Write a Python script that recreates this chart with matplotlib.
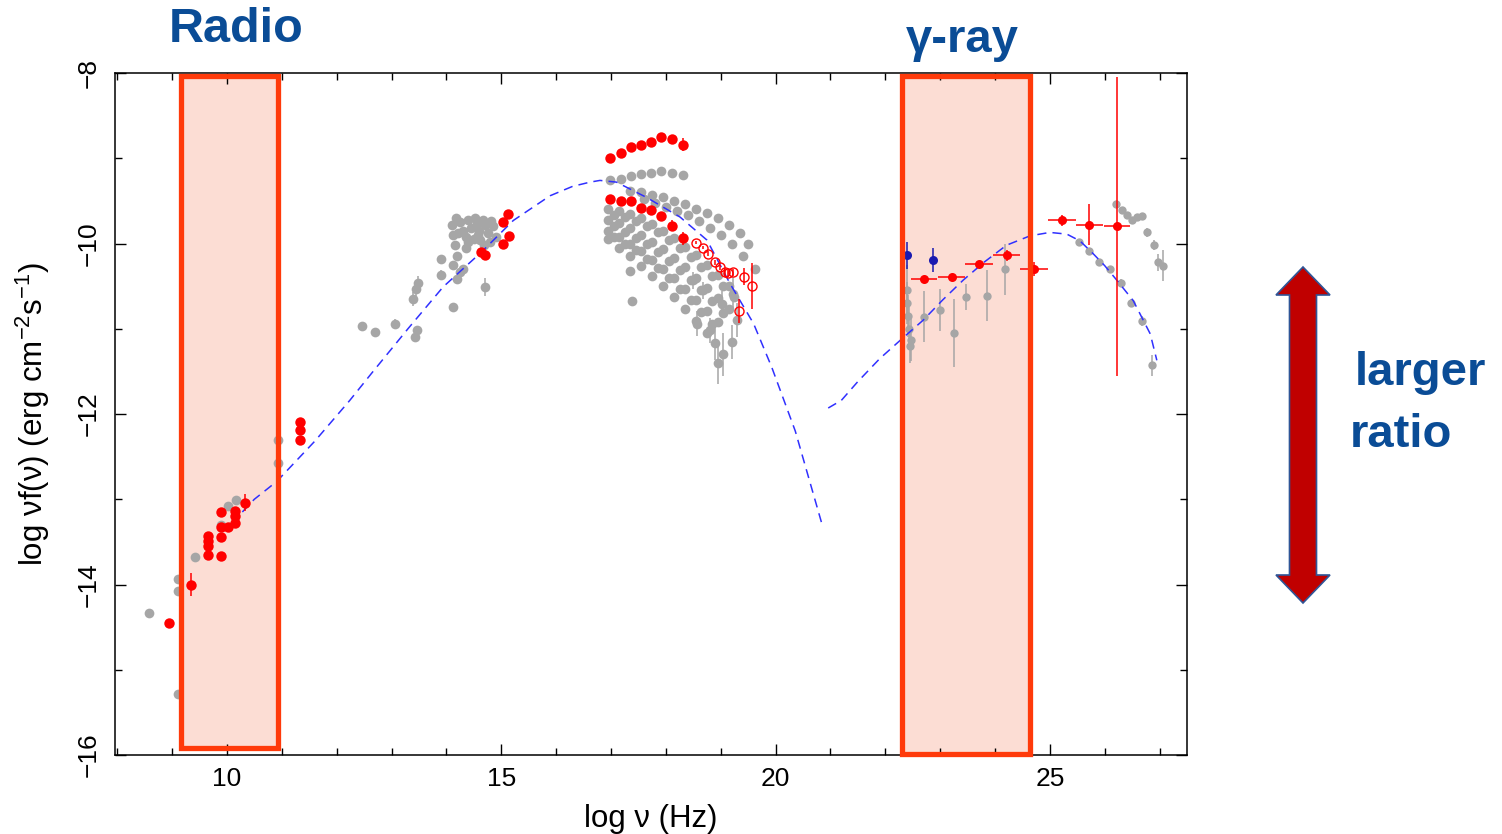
import matplotlib
matplotlib.use("Agg")
import matplotlib.pyplot as plt
from matplotlib.patches import Rectangle, Polygon
from matplotlib.ticker import MultipleLocator

plt.rcParams['font.family'] = ['Liberation Sans', 'DejaVu Sans']
plt.rcParams['mathtext.fontset'] = 'custom'
plt.rcParams['mathtext.rm'] = 'Liberation Sans'
plt.rcParams['mathtext.it'] = 'Liberation Sans:italic'

# ---------------- data: log nu (Hz), log nuF(nu) (erg cm^-2 s^-1) ----------------
# radio / mm simultaneous points (red)
radio_red_x = [8.95, 9.34, 9.66, 9.66, 9.66, 9.66, 9.89, 9.89, 9.89, 9.89, 10.02, 10.15, 10.15, 10.15, 10.33, 11.34, 11.34, 11.34]
radio_red_y = [-14.45, -14.00, -13.65, -13.55, -13.49, -13.43, -13.67, -13.44, -13.32, -13.15, -13.32, -13.28, -13.20, -13.14, -13.04, -12.09, -12.19, -12.30]
radio_red_err = [0.05, 0.14, 0.06, 0.0, 0.0, 0.0, 0.0, 0.0, 0.0, 0.0, 0.0, 0.0, 0.0, 0.0, 0.10, 0.0, 0.0, 0.0]

# archival radio points (grey)
radio_gray_x = [8.58, 9.11, 9.11, 9.11, 9.42, 9.89, 10.02, 10.16, 10.94, 10.94]
radio_gray_y = [-14.33, -13.94, -14.08, -15.29, -13.68, -13.30, -13.08, -13.01, -12.30, -12.58]

# archival IR / optical points (grey)
opt_gray_x = [12.46, 12.70, 13.06, 13.43, 13.46, 13.40, 13.45, 13.48, 13.91, 13.91, 14.12, 14.25, 14.71,
              14.10, 14.12, 14.15, 14.25, 14.30, 14.40, 14.45, 14.55, 14.60, 14.70, 14.75, 14.85, 14.90,
              14.80, 14.50, 14.35, 14.20, 14.12, 14.30, 14.20, 14.62, 14.68,
              14.18, 14.35, 14.52, 14.66, 14.82, 14.40, 14.58, 14.22]
opt_gray_y = [-10.97, -11.04, -10.94, -11.10, -11.02, -10.65, -10.53, -10.46, -10.18, -10.37, -10.75, -10.34, -10.51,
              -9.78, -9.90, -10.02, -9.75, -9.85, -9.73, -9.82, -9.76, -9.85, -9.78, -9.88, -9.80, -9.92,
              -9.98, -9.95, -10.05, -10.15, -10.25, -10.30, -10.42, -9.96, -10.02,
              -9.70, -9.92, -9.70, -9.72, -9.74, -9.98, -9.90, -9.88]
opt_gray_err = [0.05, 0.03, 0.06, 0.05, 0.04, 0.08, 0.08, 0.08, 0.05, 0.06, 0.05, 0.04, 0.10,
                0, 0, 0, 0, 0, 0, 0, 0, 0, 0, 0, 0, 0, 0, 0, 0, 0, 0, 0, 0, 0, 0,
                0, 0, 0, 0, 0, 0, 0, 0]

# UV points (red)
uv_red_x = [14.64, 14.70, 15.04, 15.13, 15.04, 15.15]
uv_red_y = [-10.10, -10.13, -10.00, -9.65, -9.75, -9.91]

# X-ray spectra, high and low state (red, filled)
xray_hi_x = [16.98, 17.18, 17.36, 17.54, 17.73, 17.92, 18.11, 18.31]
xray_hi_y = [-9.00, -8.94, -8.87, -8.85, -8.81, -8.75, -8.78, -8.84]
xray_hi_err = [0, 0, 0, 0, 0, 0, 0, 0.08]
xray_lo_x = [16.98, 17.18, 17.36, 17.54, 17.73, 17.92, 18.11, 18.31]
xray_lo_y = [-9.48, -9.50, -9.50, -9.58, -9.61, -9.68, -9.79, -9.94]
xray_lo_err = [0, 0, 0, 0, 0, 0.05, 0.06, 0.08]

# hard X-ray spectrum (red, open)
hx_x = [18.55, 18.67, 18.77, 18.90, 18.99, 19.07, 19.14, 19.22, 19.43, 19.58, 19.34]
hx_y = [-9.99, -10.05, -10.12, -10.22, -10.28, -10.34, -10.35, -10.34, -10.39, -10.50, -10.79]
hx_err = [0.02, 0.02, 0.03, 0.03, 0.03, 0.04, 0.04, 0.04, 0.10, 0.27, 0.14]

# archival X-ray spectra (grey)
xg_row_x = [16.98, 17.18, 17.36, 17.54, 17.73, 17.92, 18.11, 18.31]
xg_row_y = [-9.26, -9.24, -9.21, -9.19, -9.17, -9.15, -9.17, -9.20]
xg_s1_x = [17.35, 17.55, 17.75, 17.95, 18.15, 18.35, 18.55, 18.75, 18.95, 19.15, 19.35, 19.50, 19.62]
xg_s1_y = [-9.38, -9.40, -9.43, -9.46, -9.50, -9.54, -9.59, -9.64, -9.70, -9.78, -9.88, -10.00, -10.30]
xg_s2_x = [17.60, 17.80, 18.00, 18.20, 18.40, 18.60, 18.80, 19.00, 19.20, 19.40]
xg_s2_y = [-9.48, -9.52, -9.57, -9.62, -9.67, -9.74, -9.82, -9.90, -10.00, -10.15]
xg_s3_x = [16.95, 17.15, 17.35, 17.55, 17.75, 17.95, 18.15, 18.35, 18.55, 18.75, 18.95, 19.15]
xg_s3_y = [-9.60, -9.62, -9.65, -9.70, -9.77, -9.85, -9.94, -10.04, -10.14, -10.25, -10.37, -10.50]
xg_s4_x = [17.05, 17.25, 17.45, 17.65, 17.85, 18.05, 18.25, 18.45, 18.65, 18.85, 19.05, 19.25]
xg_s4_y = [-9.66, -9.69, -9.74, -9.80, -9.87, -9.96, -10.05, -10.16, -10.27, -10.38, -10.50, -10.63]
xg_s5_x = [16.95, 17.15, 17.35, 17.55, 17.75, 17.95, 18.15, 18.35, 18.55, 18.75, 18.95, 19.15]
xg_s5_y = [-9.72, -9.76, -9.82, -9.90, -9.98, -10.07, -10.17, -10.28, -10.40, -10.52, -10.64, -10.77]
xg_s6_x = [17.05, 17.25, 17.45, 17.65, 17.85, 18.05, 18.25, 18.45, 18.65, 18.85, 19.05]
xg_s6_y = [-9.80, -9.86, -9.93, -10.01, -10.10, -10.20, -10.31, -10.43, -10.55, -10.68, -10.81]
xg_s7_x = [16.95, 17.15, 17.35, 17.55, 17.75, 17.95, 18.15, 18.35, 18.55, 18.75, 18.95]
xg_s7_y = [-9.85, -9.92, -10.00, -10.09, -10.19, -10.30, -10.41, -10.53, -10.66, -10.79, -10.92]
xg_s8_x = [17.05, 17.25, 17.45, 17.65, 17.85, 18.05, 18.25, 18.45, 18.65, 18.85]
xg_s8_y = [-9.92, -10.00, -10.08, -10.18, -10.29, -10.40, -10.53, -10.66, -10.80, -10.94]
xg_s9_x = [16.95, 17.15, 17.35, 17.55, 17.75, 17.95, 18.15, 18.35, 18.55, 18.75]
xg_s9_y = [-9.95, -10.05, -10.15, -10.26, -10.38, -10.50, -10.63, -10.77, -10.91, -11.05]
xg_tail_x = [17.38, 17.35, 18.50, 18.57, 18.81, 18.90, 19.20, 19.02, 19.22, 18.68, 19.05, 18.95, 19.30]
xg_tail_y = [-10.67, -10.32, -10.43, -10.94, -11.02, -11.17, -11.16, -10.71, -10.59, -10.55, -11.30, -11.40, -10.90]
xg_tail_err = [0.03, 0.03, 0.10, 0.15, 0.15, 0.20, 0.20, 0.15, 0.20, 0.10, 0.25, 0.25, 0.20]

# Fermi-LAT spectrum (red) and EGRET points (blue)
lat_x = [22.71, 23.21, 23.71, 24.21, 24.71, 25.22, 25.72, 26.22]
lat_y = [-10.42, -10.39, -10.24, -10.14, -10.30, -9.73, -9.78, -9.80]
lat_xerr = [0.24, 0.24, 0.25, 0.25, 0.25, 0.25, 0.25, 0.24]
lat_yerr = [0.03, 0.03, 0.04, 0.06, 0.08, 0.07, 0.24, 1.75]
egret_x = [22.40, 22.87]
egret_y = [-10.14, -10.19]
egret_err = [0.16, 0.14]

# archival gamma-ray points (grey)
gam_gray_x = [22.40, 22.40, 22.42, 22.43, 22.45, 22.47, 22.70, 22.99, 23.26, 23.47, 23.85, 24.18]
gam_gray_y = [-10.55, -10.70, -10.85, -11.00, -11.20, -11.13, -10.86, -10.78, -11.05, -10.63, -10.61, -10.30]
gam_gray_err = [0.30, 0.25, 0.25, 0.25, 0.20, 0.25, 0.30, 0.25, 0.40, 0.15, 0.30, 0.30]

# TeV spectra (grey)
tev_a_x = [25.54, 25.72, 25.90, 26.10, 26.29, 26.48, 26.68, 26.86]
tev_a_y = [-9.98, -10.09, -10.22, -10.30, -10.46, -10.70, -10.91, -11.43]
tev_a_err = [0.02, 0.02, 0.03, 0.03, 0.04, 0.05, 0.06, 0.12]
tev_b_x = [26.20, 26.31, 26.40, 26.49, 26.58, 26.68, 26.77, 26.89, 26.98, 27.07]
tev_b_y = [-9.54, -9.61, -9.66, -9.72, -9.69, -9.68, -9.87, -10.02, -10.22, -10.26]
tev_b_err = [0.02, 0.03, 0.03, 0.03, 0.04, 0.04, 0.05, 0.06, 0.10, 0.18]

# SSC model curve (synchrotron and inverse-Compton branches)
sync_x = [10.09, 10.50, 10.91, 11.60, 12.24, 12.64, 13.30, 13.94, 14.64, 15.22, 15.89, 16.30, 16.62, 16.80,
          17.10, 17.65, 18.26, 18.75, 19.17, 19.60, 19.93, 20.36, 20.85]
sync_y = [-13.28, -13.00, -12.79, -12.32, -11.84, -11.52, -11.00, -10.51, -10.10, -9.73, -9.44, -9.33, -9.28, -9.26,
          -9.28, -9.46, -9.69, -9.96, -10.47, -10.94, -11.45, -12.20, -13.30]
ic_x = [20.96, 21.20, 21.50, 21.90, 22.30, 22.69, 23.05, 23.42, 23.80, 24.21, 24.64, 25.00, 25.31, 25.55,
        25.79, 26.00, 26.22, 26.52, 26.83, 26.95]
ic_y = [-11.93, -11.84, -11.62, -11.35, -11.12, -10.90, -10.66, -10.43, -10.22, -10.02, -9.91, -9.87, -9.89, -9.97,
        -10.12, -10.26, -10.43, -10.67, -11.06, -11.37]

# highlighted bands
radio_band = (9.16, 10.93, -15.92, -8.03)
gamma_band = (22.30, 24.64, -15.99, -8.03)

# ---------------- figure ----------------
W, H = 1502, 834
fig = plt.figure(figsize=(W / 100, H / 100), dpi=100)
ax = fig.add_axes([115 / W, 79 / H, (1187 - 115) / W, (755 - 73) / H])
ax.set_xlim(7.96, 27.5)
ax.set_ylim(-16, -8)

RED = '#FF0000'
GRAY = '#A6A6A6'
BLUE = '#1A1AB0'
box_edge = '#FF3A0A'
box_face = '#FCDDD4'

for (x0, x1, y0, y1) in (radio_band, gamma_band):
    ax.add_patch(Rectangle((x0, y0), x1 - x0, y1 - y0, facecolor=box_face, edgecolor='none', zorder=0.5, clip_on=False))

def pts(x, y, color, ms, yerr=None, xerr=None, mfc=None, z=3, mew=0.0):
    ax.errorbar(x, y, yerr=yerr, xerr=xerr, fmt='o', color=color, ms=ms, mfc=mfc if mfc else color,
                mec=color, mew=mew, elinewidth=1.1, capsize=0, zorder=z, ls='none')

# grey archival data
pts(radio_gray_x, radio_gray_y, GRAY, 7)
pts(opt_gray_x, opt_gray_y, GRAY, 7, yerr=opt_gray_err)
for gx, gy in ((xg_row_x, xg_row_y), (xg_s1_x, xg_s1_y), (xg_s2_x, xg_s2_y), (xg_s3_x, xg_s3_y),
               (xg_s4_x, xg_s4_y), (xg_s5_x, xg_s5_y), (xg_s6_x, xg_s6_y), (xg_s7_x, xg_s7_y),
               (xg_s8_x, xg_s8_y), (xg_s9_x, xg_s9_y)):
    pts(gx, gy, GRAY, 7)
pts(xg_tail_x, xg_tail_y, GRAY, 7, yerr=xg_tail_err)
pts(gam_gray_x, gam_gray_y, GRAY, 6, yerr=gam_gray_err)
pts(tev_a_x, tev_a_y, GRAY, 6, yerr=tev_a_err)
pts(tev_b_x, tev_b_y, GRAY, 6, yerr=tev_b_err)

# model curve
ax.plot(sync_x, sync_y, ls=(0, (6, 4)), color='#3030FF', lw=1.1, zorder=4)
ax.plot(ic_x, ic_y, ls=(0, (6, 4)), color='#3030FF', lw=1.1, zorder=4)

# simultaneous data
pts(radio_red_x, radio_red_y, RED, 7.5, yerr=radio_red_err, z=5)
pts(uv_red_x, uv_red_y, RED, 7.5, z=5)
pts(xray_hi_x, xray_hi_y, RED, 7.5, yerr=xray_hi_err, z=5)
pts(xray_lo_x, xray_lo_y, RED, 7.5, yerr=xray_lo_err, z=5)
pts(hx_x, hx_y, RED, 6.5, yerr=hx_err, mfc='none', z=5, mew=1.0)
pts(lat_x, lat_y, RED, 6.5, yerr=lat_yerr, xerr=lat_xerr, z=5)
pts(egret_x, egret_y, BLUE, 6.5, yerr=egret_err, z=5)

# band outlines on top of everything
for (x0, x1, y0, y1) in (radio_band, gamma_band):
    ax.add_patch(Rectangle((x0, y0), x1 - x0, y1 - y0, facecolor='none', edgecolor=box_edge, lw=3.8,
                           zorder=6, clip_on=False))

# axes styling
ax.xaxis.set_major_locator(MultipleLocator(5))
ax.xaxis.set_minor_locator(MultipleLocator(1))
ax.yaxis.set_major_locator(MultipleLocator(2))
ax.yaxis.set_minor_locator(MultipleLocator(1))
ax.tick_params(which='both', direction='in', top=True, right=True, width=1.0)
ax.tick_params(which='major', length=8, labelsize=19, pad=9)
ax.tick_params(which='minor', length=5)
ax.tick_params(axis='y', which='major', pad=10)
for lab in ax.get_yticklabels():
    lab.set_rotation(90)
    lab.set_va('center')
for s in ax.spines.values():
    s.set_linewidth(1.1)

ax.set_xlabel('log ν (Hz)', fontsize=22.5, labelpad=9)
ax.set_ylabel(r'log νf(ν) (erg cm$^{-2}$s$^{-1}$)', fontsize=22.5, labelpad=18)

# annotations
TXT = '#0A4C96'
fig.text(236 / W, 1 - 30 / H, 'Radio', color=TXT, fontsize=35, fontweight='bold', ha='center', va='center')
fig.text(962 / W, 1 - 40 / H, 'γ-ray', color=TXT, fontsize=34, fontweight='bold', ha='center', va='center')
fig.text(1355 / W, 1 - 373 / H, 'larger', color=TXT, fontsize=34, fontweight='bold', ha='left', va='center')
fig.text(1350 / W, 1 - 435 / H, 'ratio', color=TXT, fontsize=34, fontweight='bold', ha='left', va='center')

# double-headed arrow
cx, top, bot = 1303, 267, 603
hw, sw, hl = 27, 13.5, 28
arrow_px = [(cx, top), (cx + hw, top + hl), (cx + sw, top + hl), (cx + sw, bot - hl), (cx + hw, bot - hl),
            (cx, bot), (cx - hw, bot - hl), (cx - sw, bot - hl), (cx - sw, top + hl), (cx - hw, top + hl)]
arrow_fig = [(x / W, 1 - y / H) for x, y in arrow_px]
fig.patches.append(Polygon(arrow_fig, closed=True, transform=fig.transFigure, facecolor='#C00000',
                           edgecolor='#2F5597', lw=1.2))

fig.savefig('out.png', dpi=100)
